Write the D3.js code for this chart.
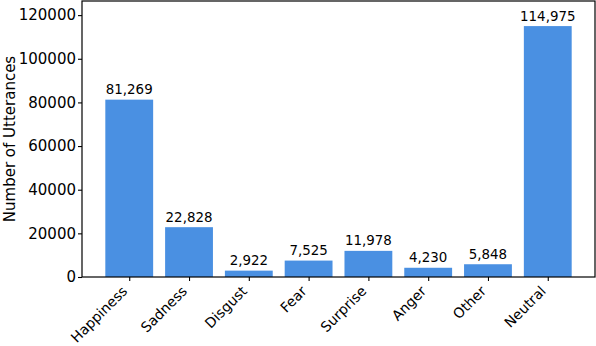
<!DOCTYPE html>
<html><head><meta charset="utf-8">
<script src="https://cdn.jsdelivr.net/npm/d3@7"></script>
<style>body{margin:0;background:#fff}svg{display:block;font-family:"DejaVu Sans",sans-serif}</style>
</head><body><svg id="c" width="596" height="346"></svg>
<script>
const categories = ["Happiness","Sadness","Disgust","Fear","Surprise","Anger","Other","Neutral"];
const counts = [81269, 22828, 2922, 7525, 11978, 4230, 5848, 114975];
const yTicks = [0, 20000, 40000, 60000, 80000, 100000, 120000];
const yLabel = "Number of Utterances";

const L = 82, R = 595, T = 1, B = 277;
const svg = d3.select("#c");
const idx = d3.range(categories.length);
const x = d3.scaleLinear().domain([-0.79, categories.length - 1 + 0.79]).range([L, R]);
const y = d3.scaleLinear().domain([0, d3.max(counts) * 1.1]).range([B, T]);
const bw = x(0.4) - x(-0.4);

svg.append("g").selectAll("rect").data(idx).join("rect")
  .attr("x", i => x(i) - bw / 2).attr("width", bw)
  .attr("y", i => y(counts[i])).attr("height", i => y(0) - y(counts[i]))
  .attr("fill", "#4a90e2");

svg.append("g").selectAll("text").data(idx).join("text")
  .attr("x", i => x(i)).attr("y", i => y(counts[i]) - 5.5)
  .attr("text-anchor", "middle").attr("font-size", 13.4).attr("fill", "#000")
  .text(i => d3.format(",")(counts[i]));

// y axis
const yAxis = d3.axisLeft(y).tickValues(yTicks).tickSize(4).tickPadding(2).tickFormat(d3.format("d"));
const gy = svg.append("g").attr("transform", `translate(${L},0)`).call(yAxis);
gy.select(".domain").remove();
gy.selectAll("line").attr("stroke", "#000").attr("stroke-width", 1.1);
gy.selectAll("text").attr("font-size", 15).attr("font-family", "DejaVu Sans").attr("fill", "#000");

// x axis
const xAxis = d3.axisBottom(x).tickValues(idx).tickSize(4).tickFormat(() => "");
const gx = svg.append("g").attr("transform", `translate(0,${B})`).call(xAxis);
gx.select(".domain").remove();
gx.selectAll("line").attr("stroke", "#000").attr("stroke-width", 1.1);

svg.append("g").selectAll("text").data(idx).join("text")
  .attr("transform", i => `translate(${x(i) - 1},292) rotate(-45)`)
  .attr("text-anchor", "end").attr("font-size", 14).attr("fill", "#000")
  .text(i => categories[i]);

// frame
svg.append("rect").attr("x", L).attr("y", T).attr("width", R - L).attr("height", B - T)
  .attr("fill", "none").attr("stroke", "#000").attr("stroke-width", 1.2);

svg.append("text").attr("transform", `translate(15,${(T + B) / 2}) rotate(-90)`)
  .attr("text-anchor", "middle").attr("font-size", 15).attr("fill", "#000").text(yLabel);
</script></body></html>
